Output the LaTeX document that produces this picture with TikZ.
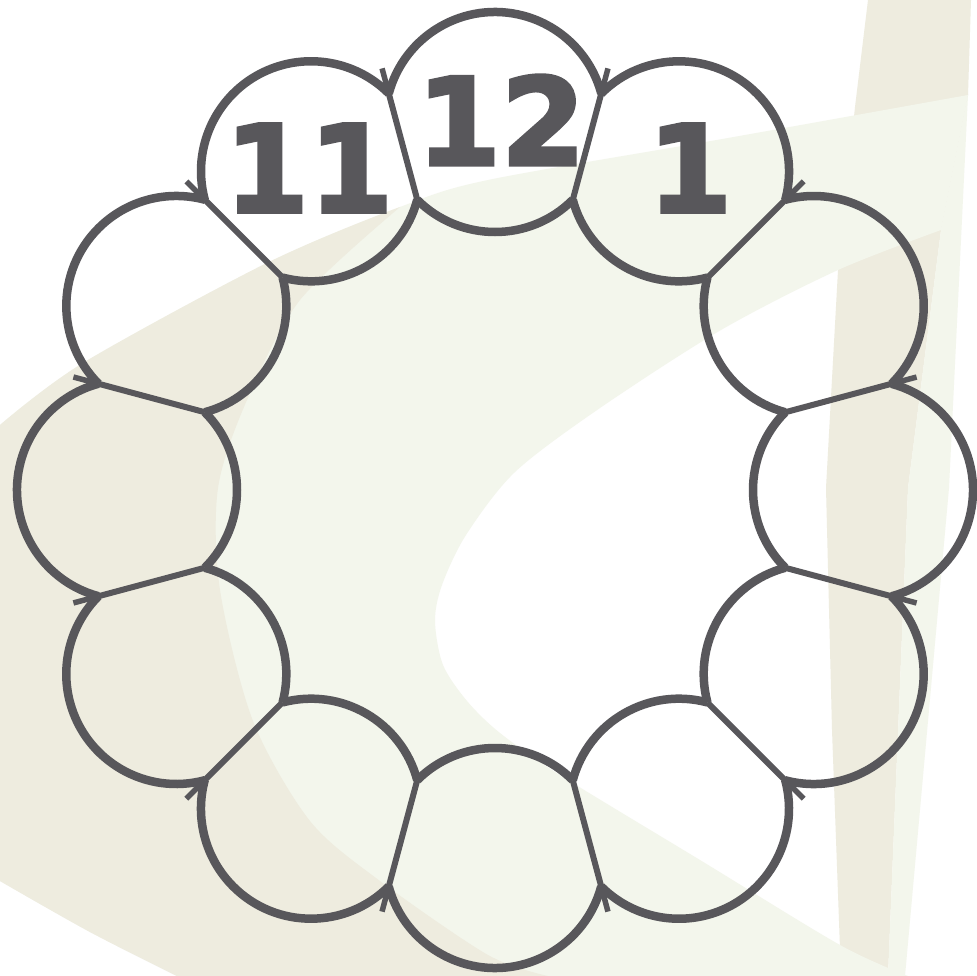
\documentclass[tikz,border=0pt]{standalone}
\usepackage{fontspec}
\newfontfamily\labfont{DejaVu Sans Bold}[FakeBold=3]
\usetikzlibrary{calc}
\definecolor{ink}{HTML}{58575B}
\definecolor{beige}{HTML}{EEECDF}
\definecolor{pale}{HTML}{F3F6EC}
\begin{document}
\begin{tikzpicture}[x=1pt,y=-1pt,
  ring/.style={draw=ink,line width=8.5pt},
  chord/.style={draw=ink,line width=6pt},
  barb/.style={draw=ink,line width=5.5pt},
  lab/.style={text=ink,inner sep=0pt,font=\labfont\fontsize{121pt}{121pt}\selectfont}]
\useasboundingbox (0,0) rectangle (976,976);
\fill[white] (0,0) rectangle (976,976);
% background
\def\crescent{plot[smooth] coordinates {(0,425) (83,363) (267,263) (400,207) (488,180) (728,138) (968,95)} -- (941,230) -- plot[smooth] coordinates {(941,230) (838,270) (721,330) (600,408) (515,472) (466,535) (442,585) (435,621) (443,665) (467,701) (500,733) (560,775) (700,860) (840,945) (908,976)} -- (177,976) -- plot[smooth] coordinates {(177,976) (90,932) (0,881)} -- cycle}
\fill[beige] (868,0) -- (971,0) -- (968,95) -- (941,230) -- (908,488) -- (888,976) -- (841,976) -- (832,730) -- (826,488) -- (838,270) -- (855,107) -- cycle;
\fill[pale] \crescent;
\begin{scope}
\clip \crescent;
\fill[beige] (0,0) -- (430,0) -- (400,207) -- plot[smooth] coordinates {(400,207) (300,300) (247,400) (218,488) (220,590) (253,721) (310,821) (380,881) (488,955) (548,976)} -- (548,990) -- (0,990) -- cycle;
\end{scope}
\fill[pale] (968,95) -- (949,488) -- (905,976) -- (888,976) -- (908,488) -- (941,230) -- cycle;
% ring
\coordinate (m) at (495,490);
\foreach \k in {0,...,11}{
  \pgfmathsetmacro\t{-90+30*\k}
  \coordinate (c\k) at ($(m)+(\t:368)$);
  \coordinate (o\k) at ($(c\k)+(\t+75:110)$);
  \coordinate (i\k) at ($(c\k)+(\t+135:110)$);
}
\foreach \k in {0,...,11}{
  \pgfmathsetmacro\t{-90+30*\k}
  \pgfmathtruncatemacro\p{mod(\k+11,12)}
  \draw[ring] (o\p) arc[start angle=\t-75,end angle=\t+75,radius=110];
  \draw[ring] (i\k) arc[start angle=\t+135,end angle=\t+225,radius=110];
  \draw[chord] (o\k) -- (i\k);
  \draw[barb] (o\k) -- ($(o\k)+(\t+15:26)$);
}
\node[lab] (l12) at (501,120) {12};
\node[lab] (l11) at (309,168) {11};
\node[lab] (l1) at (690,168) {1};
\end{tikzpicture}
\end{document}
